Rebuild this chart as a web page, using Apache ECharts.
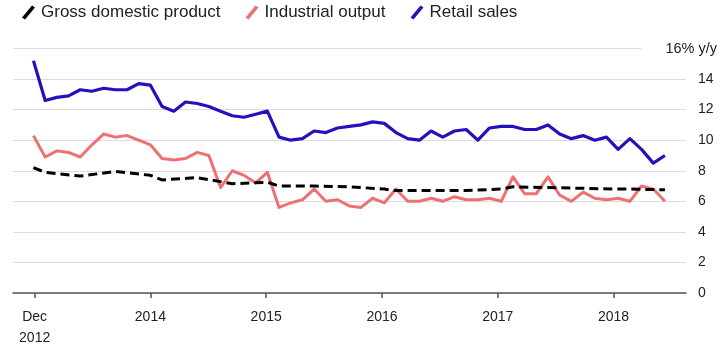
<!DOCTYPE html>
<html>
<head>
<meta charset="utf-8">
<script src="https://cdn.jsdelivr.net/npm/echarts@6/dist/echarts.min.js"></script>
<style>
html,body{margin:0;padding:0;background:#fff;}
#chart{width:720px;height:348px;}
</style>
</head>
<body>
<div id="chart"></div>
<script>
// Observations (Jan/Feb omitted), Dec 2012 .. Jun 2018
const categories = [
  '2012-12',
  '2013-03','2013-04','2013-05','2013-06','2013-07','2013-08','2013-09','2013-10','2013-11','2013-12',
  '2014-03','2014-04','2014-05','2014-06','2014-07','2014-08','2014-09','2014-10','2014-11','2014-12',
  '2015-03','2015-04','2015-05','2015-06','2015-07','2015-08','2015-09','2015-10','2015-11','2015-12',
  '2016-03','2016-04','2016-05','2016-06','2016-07','2016-08','2016-09','2016-10','2016-11','2016-12',
  '2017-03','2017-04','2017-05','2017-06','2017-07','2017-08','2017-09','2017-10','2017-11','2017-12',
  '2018-03','2018-04','2018-05','2018-06'
];
const retailSales = [
  15.2,
  12.6,12.8,12.9,13.3,13.2,13.4,13.3,13.3,13.7,13.6,
  12.2,11.9,12.5,12.4,12.2,11.9,11.6,11.5,11.7,11.9,
  10.2,10.0,10.1,10.6,10.5,10.8,10.9,11.0,11.2,11.1,
  10.5,10.1,10.0,10.6,10.2,10.6,10.7,10.0,10.8,10.9,
  10.9,10.7,10.7,11.0,10.4,10.1,10.3,10.0,10.2,9.4,
  10.1,9.4,8.5,9.0
];
const industrialOutput = [
  10.3,
  8.9,9.3,9.2,8.9,9.7,10.4,10.2,10.3,10.0,9.7,
  8.8,8.7,8.8,9.2,9.0,6.9,8.0,7.7,7.2,7.9,
  5.6,5.9,6.1,6.8,6.0,6.1,5.7,5.6,6.2,5.9,
  6.8,6.0,6.0,6.2,6.0,6.3,6.1,6.1,6.2,6.0,
  7.6,6.5,6.5,7.6,6.4,6.0,6.6,6.2,6.1,6.2,
  6.0,7.0,6.8,6.0
];
// quarterly GDP (null between quarters)
const gdp = [
  8.2,
  7.9,null,null,7.65,null,null,7.95,null,null,7.7,
  7.4,null,null,7.55,null,null,7.15,null,null,7.25,
  7.0,null,null,7.0,null,null,6.95,null,null,6.8,
  6.7,null,null,6.7,null,null,6.7,null,null,6.8,
  6.95,null,null,6.9,null,null,6.85,null,null,6.8,
  6.8,null,null,6.75
];
const seriesNames = ['Gross domestic product','Industrial output','Retail sales'];
const xTickLabels = ['Dec\n2012','2014','2015','2016','2017','2018'];
const xTickAt = [0.1, 10.0, 19.9, 29.8, 39.7, 49.6];
const yTopLabel = '16% y/y';

const toPairs = arr => arr.map((v, i) => [i, v]);
const slash = 'path://M0,12 L10,0 L13,2 L3,14 Z';

const chart = echarts.init(document.getElementById('chart'), null, {renderer: 'canvas'});
chart.setOption({
  animation: false,
  backgroundColor: '#fff',
  textStyle: {fontFamily: 'Liberation Sans, Arial, sans-serif'},
  legend: {
    left: 17, top: -1,
    itemWidth: 15, itemHeight: 14, itemGap: 25,
    icon: slash,
    textStyle: {fontSize: 17, color: '#222'},
    data: seriesNames
  },
  grid: {left: 13, right: 34, top: 48.5, bottom: 55, containLabel: false, outerBoundsMode: 'none'},
  xAxis: {
    type: 'value', min: -1.75, max: 55.8,
    splitLine: {show: false},
    axisLine: {lineStyle: {color: '#555', width: 1.5}},
    axisTick: {customValues: xTickAt, length: 5, lineStyle: {color: '#555', width: 1.5}},
    axisLabel: {
      customValues: xTickAt, margin: 14, fontSize: 14, color: '#222', lineHeight: 21,
      formatter: v => { const i = xTickAt.findIndex(t => Math.abs(t - v) < 1e-6); return i >= 0 ? xTickLabels[i] : ''; }
    }
  },
  yAxis: [{
    type: 'value', position: 'right', min: 0, max: 16, interval: 2,
    axisLine: {show: false}, axisTick: {show: false},
    splitLine: {lineStyle: {color: '#dcdcdc', width: 1}},
    axisLabel: {margin: 12, align: 'left', fontSize: 14, color: '#222',
      formatter: v => v === 16 ? '' : String(v)}
  }, {
    type: 'value', position: 'right', min: 0, max: 16, interval: 2,
    axisLine: {show: false}, axisTick: {show: false}, splitLine: {show: false},
    axisLabel: {customValues: [16], margin: 31, align: 'right', fontSize: 14.5, color: '#222',
      backgroundColor: '#fff', padding: [3, 0, 3, 24],
      formatter: v => v === 16 ? yTopLabel : ''}
  }],
  series: [{
    name: seriesNames[0], type: 'line', data: toPairs(gdp), connectNulls: true,
    symbol: 'none', color: '#000', z: 3,
    lineStyle: {color: '#000', width: 3, type: [9, 5], join: 'round'}
  }, {
    name: seriesNames[1], type: 'line', data: toPairs(industrialOutput),
    symbol: 'none', color: '#ef7073', z: 2,
    lineStyle: {color: '#ef7073', width: 3, join: 'round'}
  }, {
    name: seriesNames[2], type: 'line', data: toPairs(retailSales),
    symbol: 'none', color: '#2212bd', z: 4,
    lineStyle: {color: '#2212bd', width: 3.2, join: 'round'}
  }]
});
</script>
</body>
</html>
